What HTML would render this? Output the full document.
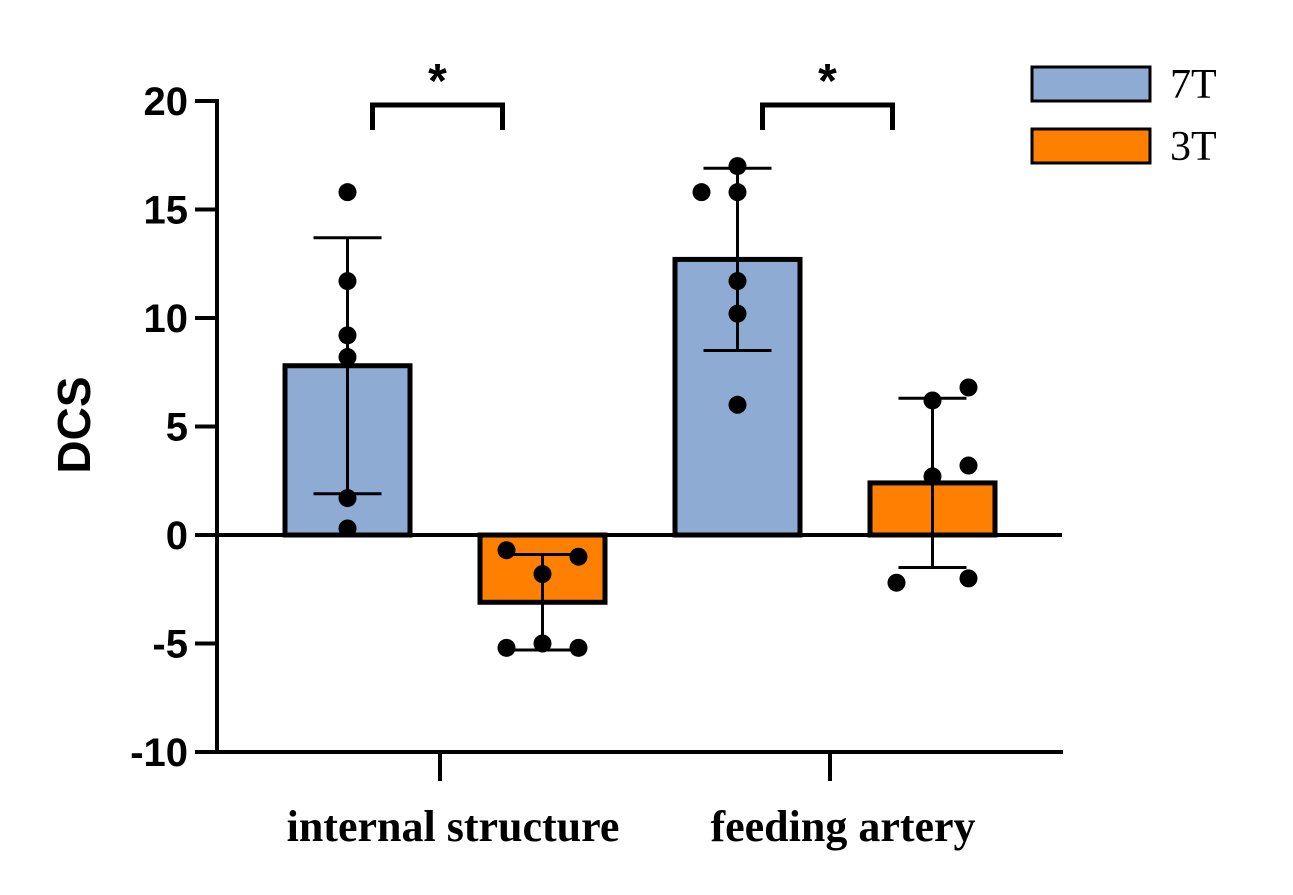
<!DOCTYPE html>
<html><head><meta charset="utf-8"><style>body{margin:0;background:#fff}svg{display:block}</style></head>
<body>
<svg id="chart" width="1293" height="895" xmlns="http://www.w3.org/2000/svg"></svg>
<script>
const categories=["internal structure","feeding artery"];
const seriesNames=["7T","3T"];
const seriesColors=["#8eabd3","#ff8000"];
const means7T=[7.8,12.7];
const means3T=[-3.1,2.4];
const sd7T=[5.9,4.2];
const sd3T=[2.2,3.9];
const points7T=[[15.8,11.7,9.2,8.2,1.7,0.3],[17.0,15.8,15.8,11.7,10.2,6.0]];
const jitter7T=[[0,0,0,0,0,0],[0,-1,0,0,0,0]];
const points3T=[[-0.7,-1.0,-1.8,-5.0,-5.2,-5.2],[6.8,6.2,3.2,2.7,-2.2,-2.0]];
const jitter3T=[[-1,1,0,0,-1,1],[1,0,1,0,-1,1]];
const yTicks=[20,15,10,5,0,-5,-10];

const svg=document.getElementById('chart');
const NS='http://www.w3.org/2000/svg';
const y=v=>535-v*21.7;
const catX=i=>440+i*390;
const barX=(c,s)=>catX(c)+(s===0?-155:40);
const BW=125,J=36;
function el(t,a,p){const e=document.createElementNS(NS,t);for(const k in a)e.setAttribute(k,a[k]);(p||svg).appendChild(e);return e;}

let ax=el('line',{x1:217,y1:99,x2:217,y2:753,stroke:'#000','stroke-width':4});


yTicks.forEach(t=>{
  el('line',{x1:195,x2:217,y1:y(t),y2:y(t),stroke:'#000','stroke-width':4});
  const tx=el('text',{x:188,y:y(t)+14,'text-anchor':'end','font-family':'Liberation Sans, sans-serif','font-weight':'bold','font-size':40});
  tx.textContent=t;
  
  
});
let xa=el('line',{x1:215,y1:y(-10),x2:1063,y2:y(-10),stroke:'#000','stroke-width':4});


categories.forEach((c,i)=>{
  el('line',{x1:catX(i),x2:catX(i),y1:751,y2:781,stroke:'#000','stroke-width':4});
  const tx=el('text',{x:catX(i)+13,y:841,'text-anchor':'middle','font-family':'Liberation Serif, serif','font-weight':'bold','font-size':44});
  tx.textContent=c;
  
  
});
const yt=el('text',{transform:'translate(90,425) rotate(-90)','text-anchor':'middle','font-family':'Liberation Sans, sans-serif','font-weight':'bold','font-size':46});
yt.textContent='DCS';



[[means7T,sd7T,points7T,jitter7T],[means3T,sd3T,points3T,jitter3T]].forEach((S,s)=>{
  categories.forEach((c,i)=>{
    const m=S[0][i],x0=barX(i,s),cx=x0+BW/2;
    const b=el('rect',{x:x0,y:Math.min(y(m),y(0)),width:BW,height:Math.abs(y(m)-y(0)),fill:seriesColors[s],stroke:'#000','stroke-width':5});
    
    
    const hi=m+S[1][i],lo=m-S[1][i];
    el('line',{x1:cx,x2:cx,y1:y(hi),y2:y(lo),stroke:'#000','stroke-width':3});
    el('line',{x1:cx-34,x2:cx+34,y1:y(hi),y2:y(hi),stroke:'#000','stroke-width':3});
    el('line',{x1:cx-34,x2:cx+34,y1:y(lo),y2:y(lo),stroke:'#000','stroke-width':3});
    S[2][i].forEach((v,k)=>{
      const p=el('circle',{cx:cx+S[3][i][k]*J,cy:y(v),r:9,fill:'#000'});
      
      
    });
  });
});
let z=el('line',{x1:217,y1:y(0),x2:1062,y2:y(0),stroke:'#000','stroke-width':4});



categories.forEach((c,i)=>{
  const a=barX(i,0)+BW/2+25,b=barX(i,1)+BW/2-40;
  const br=el('path',{d:`M${a} 130 V105 H${b} V130`,fill:'none',stroke:'#000','stroke-width':5});
  
  
  const st=el('text',{x:(a+b)/2,y:97,'text-anchor':'middle','font-family':'Liberation Sans, sans-serif','font-weight':'bold','font-size':48});
  st.textContent='*';
  
  
});

seriesNames.forEach((n,s)=>{
  const r=el('rect',{x:1032,y:67+s*62,width:118,height:34,fill:seriesColors[s],stroke:'#000','stroke-width':3});
  
  
  const t=el('text',{x:1170,y:98+s*62,'font-family':'Liberation Serif, serif','font-size':42});
  t.textContent=n;
  
  
});
</script>
</body></html>
